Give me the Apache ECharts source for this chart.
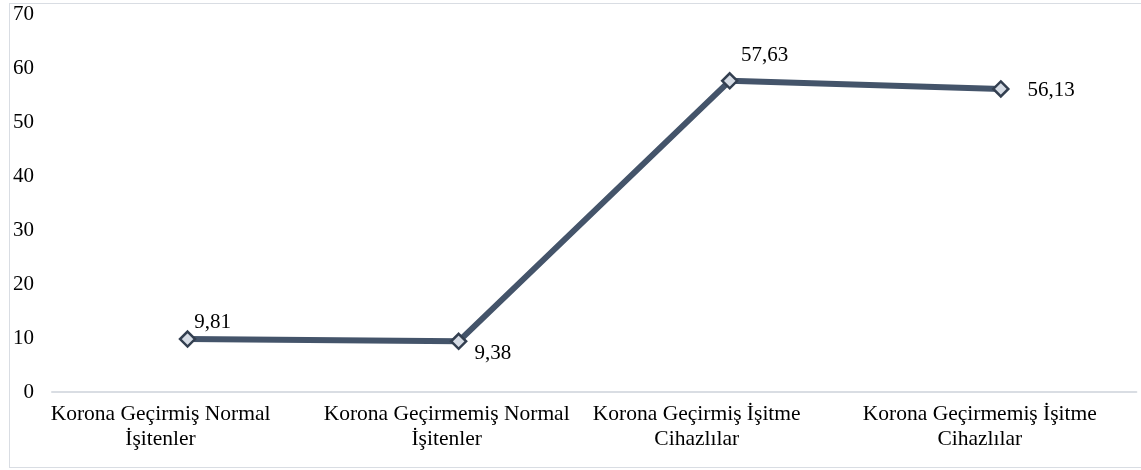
<!DOCTYPE html>
<html>
<head>
<meta charset="utf-8">
<script src="https://cdn.jsdelivr.net/npm/echarts@6/dist/echarts.min.js"></script>
<style>
  html, body { margin: 0; padding: 0; background: #fff; }
  #frame { position: absolute; left: 9px; top: 3px; width: 1150px; height: 465px; border: 1px solid #d9dde3; box-sizing: border-box; }
  #chart { position: absolute; left: 0; top: 0; width: 1141px; height: 470px; }
</style>
</head>
<body>
<div id="frame"></div>
<div id="chart"></div>
<script>
const categories = [
  'Korona Geçirmiş Normal\nİşitenler',
  'Korona Geçirmemiş Normal\nİşitenler',
  'Korona Geçirmiş İşitme\nCihazlılar',
  'Korona Geçirmemiş İşitme\nCihazlılar'
];
const values = [9.81, 9.38, 57.63, 56.13];
const yTicks = [0, 10, 20, 30, 40, 50, 60, 70];

const font = 'Liberation Serif, Times New Roman, serif';
const fmt = v => v.toFixed(2).replace('.', ',');

// leftward nudge of each category label (px), applied as right padding
const labelShift = [27, 12, 33, 21];

// per-point value label placement
const labelPlacement = [
  { position: 'top', offset: [25, 8] },
  { position: 'right', offset: [2, 12] },
  { position: 'top', offset: [35, -1] },
  { position: 'right', offset: [13, 2] }
];

const chart = echarts.init(document.getElementById('chart'), null, { renderer: 'canvas' });
chart.setOption({
  animation: false,
  grid: { left: 52, width: 1091, top: 14, height: 378, containLabel: false },
  xAxis: {
    type: 'category',
    data: categories.map((c, i) => ({
      value: c,
      textStyle: { padding: [0, labelShift[i] * 2, 0, 0] }
    })),
    boundaryGap: true,
    axisLine: { show: true, lineStyle: { color: '#d9dde3', width: 2 } },
    axisTick: { show: false },
    axisLabel: { color: '#000', fontFamily: font, fontSize: 21.5, lineHeight: 25, margin: 10, interval: 0 }
  },
  yAxis: {
    type: 'value',
    min: yTicks[0],
    max: yTicks[yTicks.length - 1],
    interval: 10,
    axisLine: { show: false },
    axisTick: { show: false },
    splitLine: { show: false },
    axisLabel: { color: '#000', fontFamily: font, fontSize: 21, margin: 18 }
  },
  series: [{
    type: 'line',
    data: values.map((v, i) => ({
      value: v,
      label: Object.assign({ show: true, formatter: p => fmt(p.value) }, labelPlacement[i])
    })),
    symbol: 'diamond',
    symbolSize: 15,
    lineStyle: { color: '#44546a', width: 6 },
    itemStyle: { color: '#d6dce5', borderColor: '#333f50', borderWidth: 2.5 },
    label: { color: '#000', fontFamily: font, fontSize: 21 }
  }]
});
</script>
</body>
</html>
